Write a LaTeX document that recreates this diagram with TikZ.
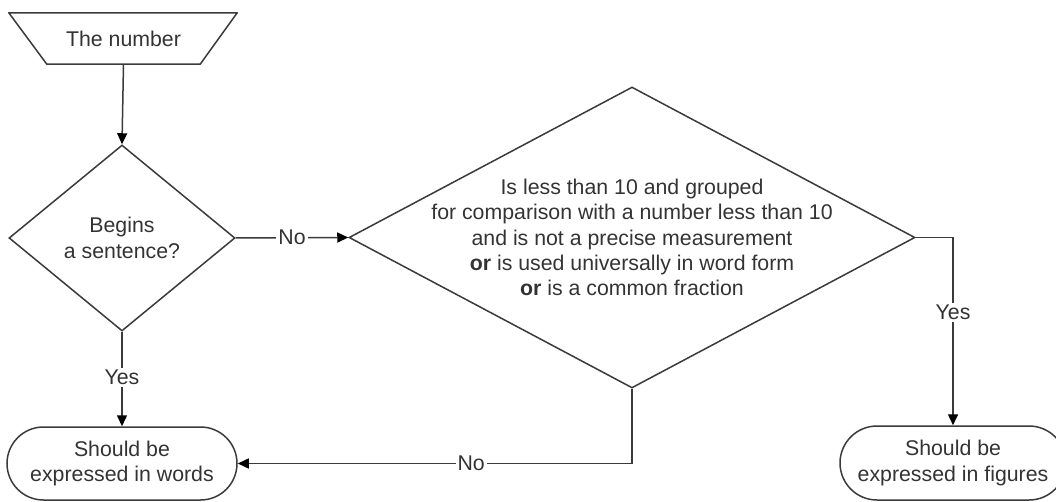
\documentclass[tikz,border=0pt]{standalone}
\usepackage{fontspec}
\setmainfont{Liberation Sans}
\usetikzlibrary{shapes.geometric,shapes.misc,arrows.meta,calc}
\definecolor{linec}{HTML}{3A3A3A}
\definecolor{textc}{HTML}{333333}
\begin{document}
\begin{tikzpicture}[x=1pt,y=-1pt,
  every node/.style={text=textc,font=\fontsize{21.3}{25.3}\selectfont},
  ln/.style={draw=linec,line width=1.5pt},
  arr/.style={ln,-{Triangle[length=11pt,width=10pt,color=black]}},
  decision/.style={ln,diamond,inner sep=0pt},
  terminal/.style={ln,rounded rectangle,inner sep=0pt,align=center},
  lbl/.style={fill=white,inner sep=2pt}]
\useasboundingbox (0,0) rectangle (1056,502);
% input
\node[inner sep=0pt,minimum width=153pt,minimum height=51pt] (in) at (123.5,38.5) {The number};
\draw[ln,line join=round] ($(in.north west)+(-38,0)$) -- ($(in.north east)+(37,0)$) -- (in.south east) -- (in.south west) -- cycle;
% decisions
\node[decision,minimum width=226pt,minimum height=186pt] (d1) at (122,238) {};
\node[align=center] at (d1) {Begins\\a sentence?};
\node[decision,minimum width=566pt,minimum height=301pt] (d2) at (632,237.5) {};
\node[align=center] at (d2) {Is less than 10 and grouped\\for comparison with a number less than 10\\and is not a precise measurement\\\textbf{or} is used universally in word form\\\textbf{or} is a common fraction};
% terminals
\node[terminal,minimum width=230pt,minimum height=73pt] (t1) at (122,463.5) {Should be\\expressed in words};
\node[terminal,minimum width=226pt,minimum height=74pt] (t2) at (953,463) {Should be\\expressed in figures};
% connectors
\draw[arr] (in.south) -- (d1.north);
\draw[arr] (d1.east) -- node[lbl]{No} (d2.west);
\draw[arr] (d1.south) -- node[lbl,pos=0.48]{Yes} (t1.north);
\draw[arr] (d2.south) |- node[lbl,pos=0.704]{No} (t1.east);
\draw[arr] (d2.east) -| node[lbl,pos=0.70]{Yes} (t2.north);
\end{tikzpicture}
\end{document}
